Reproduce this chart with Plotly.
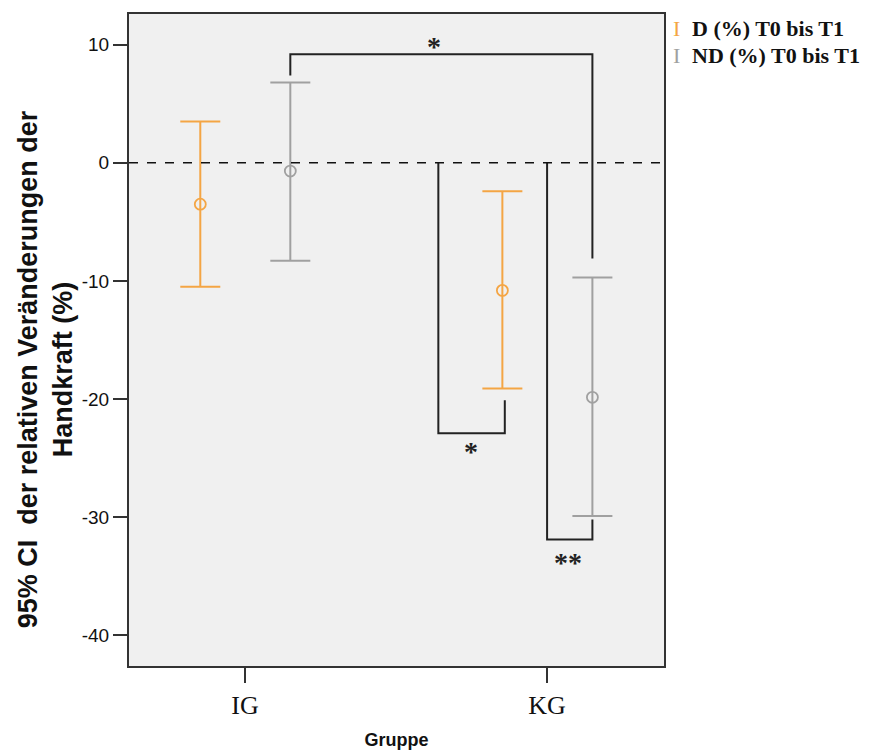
import plotly.graph_objects as go

# ---- data ----
groups = ["IG", "KG"]
group_pos = [0, 1]
series_names = ["D (%) T0 bis T1", "ND (%) T0 bis T1"]
series_colors = ["#F4A544", "#A0A0A0"]
series_offsets = [-0.148, 0.15]
d_mean = [-3.5, -10.8]
d_upper = [3.5, -2.4]
d_lower = [-10.5, -19.1]
nd_mean = [-0.7, -19.85]
nd_upper = [6.8, -9.7]
nd_lower = [-8.3, -29.9]
y_ticks = [10, 0, -10, -20, -30, -40]
y_tick_text = ["10", "0", "-10", "-20", "-30", "-40"]

# significance brackets (x in category units, y in %)
bracket_x = [[0.15, 0.15, 1.15, 1.15], [0.64, 0.64, 0.86, 0.86], [1.0, 1.0, 1.15, 1.15]]
bracket_y = [[7.4, 9.2, 9.2, -8.1], [0, -22.9, -22.9, -20.1], [0, -31.9, -31.9, -30.2]]
bracket_label = ["*", "*", "**"]
label_x = [0.625, 0.747, 1.07]
label_y = [9.85, -24.4, -33.8]

fig = go.Figure()

means = [d_mean, nd_mean]
uppers = [d_upper, nd_upper]
lowers = [d_lower, nd_lower]
for i in range(2):
    xs = [p + series_offsets[i] for p in group_pos]
    m = means[i]
    fig.add_trace(go.Scatter(
        x=xs, y=m, mode="markers", name=series_names[i], showlegend=False,
        marker=dict(symbol="circle-open", size=11, color=series_colors[i],
                    line=dict(width=1.8, color=series_colors[i])),
        error_y=dict(type="data", symmetric=False,
                     array=[u - v for u, v in zip(uppers[i], m)],
                     arrayminus=[v - l for v, l in zip(m, lowers[i])],
                     color=series_colors[i], thickness=2, width=20),
    ))

for bx, by in zip(bracket_x, bracket_y):
    fig.add_trace(go.Scatter(x=bx, y=by, mode="lines", showlegend=False,
                             line=dict(color="#222222", width=2), hoverinfo="skip"))

for t, lx, ly in zip(bracket_label, label_x, label_y):
    fig.add_annotation(x=lx, y=ly, text="<b>" + t + "</b>", showarrow=False, xref="x", yref="y",
                       font=dict(family="Liberation Serif", size=28, color="#222222"))

# dashed zero reference line
fig.add_shape(type="line", xref="paper", yref="y", x0=0, x1=1, y0=0, y1=0,
              line=dict(color="#111111", width=1.5, dash="dash"))

# manual legend
legend_y = [0.978, 0.937]
for i, name in enumerate(series_names):
    fig.add_annotation(xref="paper", yref="paper", x=1.024, y=legend_y[i], text="I",
                       showarrow=False, xanchor="center", yanchor="middle",
                       font=dict(family="Liberation Serif", size=22, color=series_colors[i]))
    fig.add_annotation(xref="paper", yref="paper", x=1.049, y=legend_y[i], text="<b>" + name + "</b>",
                       showarrow=False, xanchor="left", yanchor="middle",
                       font=dict(family="Liberation Serif", size=22, color="#111111"))

# y axis title
fig.add_annotation(xref="paper", yref="paper", x=-0.157, y=0.455,
                   text="<b>95% CI  der relativen Veränderungen der<br>Handkraft (%)</b>",
                   textangle=-90, showarrow=False, xanchor="center", yanchor="middle",
                   font=dict(family="Liberation Sans", size=27, color="#111111"))

fig.update_layout(
    width=868, height=743,
    margin=dict(l=121, r=212, t=4, b=77),
    paper_bgcolor="white", plot_bgcolor="#F0F0F0",
    showlegend=False,
    xaxis=dict(range=[-0.384, 1.387], tickvals=group_pos, ticktext=groups,
               showgrid=False, zeroline=False, showline=True, mirror=True,
               linecolor="#333333", linewidth=2, ticks="outside", ticklen=15,
               tickwidth=2, tickcolor="#333333",
               tickfont=dict(family="Liberation Serif", size=26, color="#111111"),
               title=dict(text="<b>Gruppe</b>", standoff=14,
                          font=dict(family="Liberation Sans", size=18, color="#111111"))),
    yaxis=dict(range=[-42.6, 12.6], tickvals=y_ticks, ticktext=y_tick_text,
               showgrid=False, zeroline=False, showline=True, mirror=True,
               linecolor="#333333", linewidth=2, ticks="outside", ticklen=14,
               tickwidth=2, tickcolor="#333333",
               tickfont=dict(family="Liberation Sans", size=19, color="#111111")),
)

fig.write_html("out.html")
